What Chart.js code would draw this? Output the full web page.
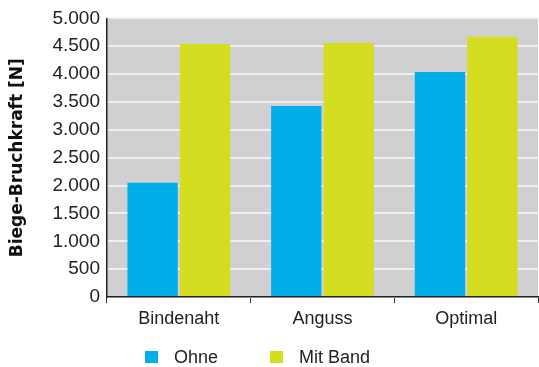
<!DOCTYPE html>
<html>
<head>
<meta charset="utf-8">
<script src="https://cdn.jsdelivr.net/npm/chart.js@4"></script>
<style>
    html, body { margin: 0; padding: 0; background: #ffffff; }
    #wrap { width: 539px; height: 367px; position: relative; }
    #legend {
        position: absolute; left: 145px; top: 346px;
        display: flex; align-items: center;
        font-family: 'Liberation Sans', 'DejaVu Sans', sans-serif;
        font-size: 18px; color: #222; line-height: 22px;
    }
    .legend-item { display: flex; align-items: center; margin-right: 52px; }
    .legend-box { width: 13px; height: 12px; margin-right: 16px; }
</style>
</head>
<body>
<div id="wrap">
    <canvas id="forceChart"></canvas>
    <div id="legend"></div>
</div>
<script>
// Biege-Bruchkraft chart

const categories = ['Bindenaht', 'Anguss', 'Optimal'];
const seriesNames = ['Ohne', 'Mit Band'];
const seriesColors = ['#00aeea', '#d5dd21'];
const ohneValues = [2050, 3430, 4040];
const mitBandValues = [4540, 4560, 4670];
const yTicks = [0, 500, 1000, 1500, 2000, 2500, 3000, 3500, 4000, 4500, 5000];

const FONT = "'Liberation Sans', 'DejaVu Sans', sans-serif";

// German thousands separator
function formatNumber(value) {
    return String(value).replace(/\B(?=(\d{3})+(?!\d))/g, '.');
}

// Grey plot background
const plotBackground = {
    id: 'plotBackground',
    beforeDraw(chart) {
        const { ctx, chartArea: a } = chart;
        ctx.save();
        ctx.fillStyle = '#d0d0d2';
        ctx.fillRect(a.left, a.top, a.right - a.left, a.bottom - a.top);
        ctx.restore();
    }
};

function createChart() {
    const ctx = document.getElementById('forceChart');

    new Chart(ctx, {
        type: 'bar',
        data: {
            labels: categories,
            datasets: [{
                label: seriesNames[0],
                data: ohneValues,
                backgroundColor: seriesColors[0]
            }, {
                label: seriesNames[1],
                data: mitBandValues,
                backgroundColor: seriesColors[1]
            }]
        },
        options: {
            responsive: true,
            maintainAspectRatio: false,
            animation: false,
            categoryPercentage: 0.73,
            barPercentage: 0.96,
            layout: {
                padding: { top: 17, right: 1, left: 0, bottom: 30 }
            },
            plugins: {
                tooltip: { enabled: false },
                legend: { display: false }
            },
            scales: {
                x: {
                    grid: {
                        offset: true,
                        drawOnChartArea: false,
                        drawTicks: true,
                        tickLength: 6,
                        color: '#333'
                    },
                    border: { color: '#222', width: 1.5 },
                    ticks: {
                        color: '#222',
                        padding: 5,
                        font: { family: FONT, size: 18 }
                    },
                    afterFit(scale) { scale.height = 40; }
                },
                y: {
                    min: 0,
                    max: 5000,
                    afterBuildTicks(scale) {
                        scale.ticks = yTicks.map(v => ({ value: v }));
                    },
                    grid: {
                        color: '#efefef',
                        lineWidth: 2,
                        drawTicks: false
                    },
                    border: { color: '#222', width: 1.5 },
                    ticks: {
                        autoSkip: false,
                        color: '#222',
                        padding: 7,
                        font: { family: FONT, size: 19 },
                        callback: function(value) {
                            return formatNumber(value);
                        }
                    },
                    title: {
                        display: true,
                        text: 'Biege-Bruchkraft [N]',
                        color: '#111',
                        padding: { top: 7, bottom: 0 },
                        font: { family: "'DejaVu Sans', sans-serif", size: 17, weight: 'bold' }
                    },
                    afterFit(scale) { scale.width = 107; }
                }
            }
        },
        plugins: [plotBackground]
    });
}

// HTML legend below the chart
function buildLegend() {
    const html = seriesNames.map((name, i) => `
        <div class="legend-item">
            <span class="legend-box" style="background:${seriesColors[i]}"></span>
            <span>${name}</span>
        </div>
    `).join('');
    document.getElementById('legend').innerHTML = html;
}

document.addEventListener('DOMContentLoaded', () => {
    createChart();
    buildLegend();
});
</script>
</body>
</html>
